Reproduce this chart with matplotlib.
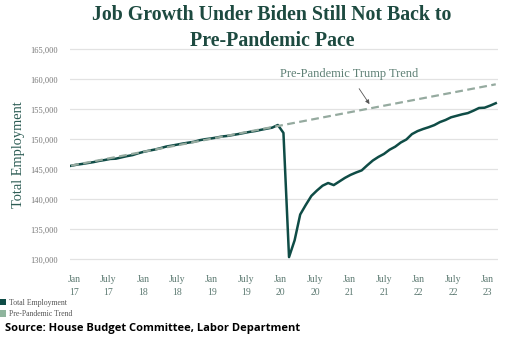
import numpy as np
import matplotlib
matplotlib.use("Agg")
import matplotlib.pyplot as plt
from matplotlib.patches import Patch

# Monthly total nonfarm employment (thousands), Jan 2017 - May 2023
employment = [
    # 2017
    145620, 145800, 145930, 146080, 146230, 146430, 146580, 146760, 146800, 147020, 147230, 147400,
    # 2018
    147700, 147950, 148150, 148330, 148560, 148820, 148980, 149150, 149330, 149480, 149620, 149880,
    # 2019
    150050, 150170, 150320, 150500, 150600, 150760, 150920, 151100, 151280, 151420, 151620, 151800,
    # 2020
    151980, 152420, 151100, 130400, 133200, 137500, 139100, 140600, 141500, 142300, 142750, 142400,
    # 2021
    143000, 143600, 144100, 144500, 144850, 145700, 146500, 147100, 147600, 148300, 148800, 149500,
    # 2022
    150000, 150900, 151400, 151750, 152050, 152400, 152900, 153250, 153700, 153950, 154200, 154400,
    # 2023
    154800, 155250, 155300, 155650, 156050,
]
months = np.arange(len(employment))

# Pre-pandemic trend endpoints (first and last month)
trend_months = [0, len(employment) - 1]
trend_values = [145650, 159200]

tick_labels = ["Jan\n17", "July\n17", "Jan\n18", "July\n18", "Jan\n19", "July\n19", "Jan\n20",
               "July\n20", "Jan\n21", "July\n21", "Jan\n22", "July\n22", "Jan\n23"]
y_ticks = [130000, 135000, 140000, 145000, 150000, 155000, 160000, 165000]

dark = "#0f4c46"
trend_color = "#95aa9f"
serif = "Liberation Serif"

fig = plt.figure(figsize=(5.17, 3.46), dpi=100)
ax = fig.add_axes([70 / 517, 1 - 260.7 / 346, 428 / 517, 212.4 / 346])

ax.plot(months, employment, color=dark, linewidth=1.8, zorder=3)
ax.plot(trend_months, trend_values, color=trend_color, linewidth=1.6,
        linestyle=(0, (3.5, 2)), zorder=4)

ax.set_xlim(-0.2, 76.4)
ax.set_ylim(129800, 165200)
ax.set_yticks(y_ticks)
ax.set_yticklabels([f"{v:,}" for v in y_ticks])
ax.set_xticks(np.linspace(0.5, 74.5, len(tick_labels)))
ax.set_xticklabels(tick_labels, linespacing=1.6)

ax.grid(axis="y", color="#e2e2e2", linewidth=0.9)
ax.set_axisbelow(True)
for s in ax.spines.values():
    s.set_visible(False)
ax.tick_params(axis="both", length=0)
ax.tick_params(axis="y", labelsize=6, labelcolor="#777777", pad=9)
ax.tick_params(axis="x", labelsize=7, labelcolor="#5d7a72", pad=10)
for lbl in ax.get_xticklabels() + ax.get_yticklabels():
    lbl.set_family(serif)

ax.set_ylabel("Total Employment", family=serif, fontsize=10.4, color="#2c5c54")
ax.yaxis.set_label_coords(-0.105, 0.5)

ax.annotate("Pre-Pandemic Trump Trend", xy=(53.4, 155900), xytext=(49.8, 160900),
            textcoords="data", ha="center", va="center", family=serif, fontsize=9,
            color="#5f8075",
            arrowprops=dict(arrowstyle="-|>", color="#555555", lw=0.6,
                            mutation_scale=6, shrinkA=5, shrinkB=0))

fig.text(272 / 517, 1 - 15 / 346, "Job Growth Under Biden Still Not Back to",
         ha="center", va="center", family=serif, fontweight="bold", fontsize=14.3, color="#1d4a40")
fig.text(272 / 517, 1 - 41 / 346, "Pre-Pandemic Pace",
         ha="center", va="center", family=serif, fontweight="bold", fontsize=14.3, color="#1d4a40")

handles = [Patch(facecolor=dark, edgecolor="none", label="Total Employment"),
           Patch(facecolor="#8fb59d", edgecolor="none", label="Pre-Pandemic Trend")]
fig.legend(handles=handles, loc="upper left", bbox_to_anchor=(-0.005, 1 - 297 / 346),
           frameon=False, prop={"family": serif, "size": 5.6}, labelcolor="#555555",
           handlelength=0.9, handleheight=0.9, handletextpad=0.4, labelspacing=0.45,
           borderaxespad=0, borderpad=0.2)

fig.text(5 / 517, 1 - 329 / 346, "Source: House Budget Committee, Labor Department",
         ha="left", va="center", family="Open Sans", fontweight="bold", fontsize=8.0, color="black")

fig.savefig("out.png", dpi=100)
